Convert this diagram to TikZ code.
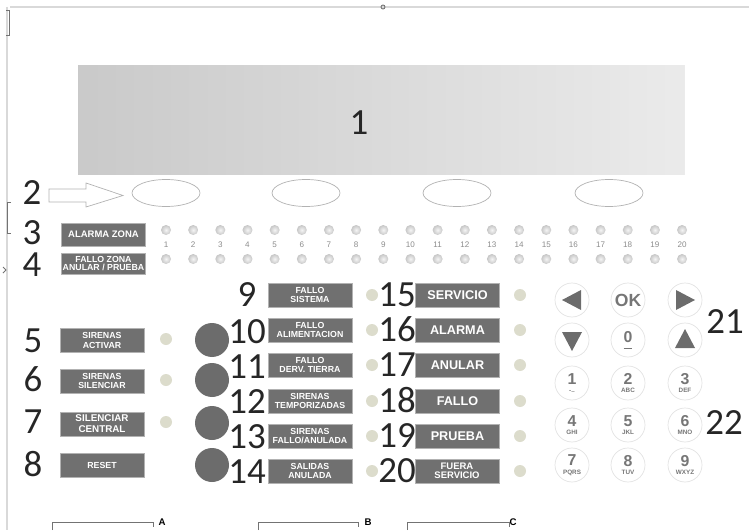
\documentclass[tikz,border=0pt]{standalone}
\usepackage{fontspec}
\setmainfont{Liberation Sans}
\newfontfamily\numfont{Carlito}
\usetikzlibrary{shapes.geometric}
\definecolor{btngray}{RGB}{112,112,112}
\definecolor{knobgray}{RGB}{108,108,108}
\definecolor{ledoff}{RGB}{220,220,204}
\definecolor{keyline}{RGB}{226,226,226}
\definecolor{keytext}{RGB}{118,118,118}
\tikzset{
  pnum/.style={font=\numfont\fontsize{21}{21}\selectfont,text=black!85,inner sep=0pt,
    text height=13.2pt,text depth=0pt},
  btn/.style={fill=btngray,draw=black!30,line width=0.3pt,text=white,align=center,
    font=\bfseries\fontsize{5}{5.6}\selectfont,minimum width=1.68cm,minimum height=0.48cm,inner sep=0pt},
  btnbig/.style={btn,font=\bfseries\fontsize{7.2}{8}\selectfont},
  zled/.style={circle,inner sep=0pt,minimum size=0.2cm,shading=radial,inner color=black!4,outer color=black!22},
  sled/.style={circle,inner sep=0pt,minimum size=0.24cm,fill=ledoff},
  knob/.style={circle,inner sep=0pt,minimum size=0.68cm,fill=knobgray},
  keybtn/.style={circle,inner sep=0pt,minimum size=0.68cm,draw=keyline,line width=0.4pt,
    align=center,text=keytext,font=\bfseries\fontsize{9}{8}\selectfont},
  softkey/.style={ellipse,draw=black!30,line width=0.4pt,minimum width=1.36cm,minimum height=0.54cm},
  marker/.style={draw=black!55,line width=0.5pt}
}
\newcommand{\keysub}[1]{\\[-3pt]{\fontsize{3.6}{4}\selectfont #1}}
\begin{document}
\begin{tikzpicture}[x=0.02cm,y=-0.02cm]
  \useasboundingbox (0,0) rectangle (749,530);
  % frame
  \draw[black!15,line width=0.8pt] (10,7) -- (749,7);
  \draw[black!15,line width=0.6pt] (7,7) -- (7,530);
  \draw[marker] (6,10) -- (9,10) -- (9,35) -- (6,35);
  \draw[marker] (11,202) -- (7,202) -- (7,233) -- (11,233);
  \draw[marker] (3,267) -- (6,270) -- (3,273);
  \draw[marker] (383,7) circle (2);
  % display
  \node[minimum width=12.14cm,minimum height=2.2cm,inner sep=0pt,
    left color=black!21,right color=black!8] (lcd) at (381.5,120) {};
  \node[pnum] (n1) at (359,123) {1};
  % soft keys
  \node[pnum] (n2) at (32,193) {2};
  \draw[black!30,line width=0.4pt] (49,189) -- (86,189) -- (86,183) -- (123,195.5)
    -- (86,207) -- (86,202) -- (49,202) -- cycle;
  \foreach \sx [count=\k] in {166,306,457,609}
    \node[softkey] (soft\k) at (\sx,193) {};
  % zones
  \node[pnum] (n3) at (32,233) {3};
  \node[pnum] (n4) at (32,265) {4};
  \node[btn,font=\bfseries\fontsize{5.4}{6}\selectfont,minimum height=0.46cm] (bzona) at (103.5,234.5) {ALARMA ZONA};
  \node[btn,minimum height=0.42cm,font=\bfseries\fontsize{5}{4.8}\selectfont] (bfzona) at (103.5,263.5) {FALLO ZONA\\ANULAR / PRUEBA};
  \foreach \i in {1,...,20}{
    \pgfmathsetmacro\zx{166+27.16*(\i-1)}
    \node[zled] (za\i) at (\zx,230) {};
    \node[inner sep=0pt,text=black!45,font=\fontsize{4.6}{5}\selectfont] (zn\i) at (\zx,245) {\i};
    \node[zled] (zb\i) at (\zx,259) {};
  }
  % left column
  \node[pnum] (n5) at (33,341) {5};
  \node[pnum] (n6) at (33,380) {6};
  \node[pnum] (n7) at (33,422) {7};
  \node[pnum] (n8) at (33,465) {8};
  \node[btn] (bsact) at (102,340.5) {SIRENAS\\ACTIVAR};
  \node[btn] (bssil) at (102,381) {SIRENAS\\SILENCIAR};
  \node[btn,font=\bfseries\fontsize{5.6}{6.2}\selectfont] (bscen) at (102,424) {SILENCIAR\\CENTRAL};
  \node[btn] (breset) at (102,465) {RESET};
  \foreach \ly [count=\k] in {339,380,422}
    \node[sled] (lled\k) at (166,\ly) {};
  \foreach \ky [count=\k] in {340,380,423,465}
    \node[knob] (knob\k) at (212,\ky) {};
  % middle column
  \foreach \nn/\ny in {9/295,10/332,11/367,12/402,13/437,14/472}
    \node[pnum] (n\nn) at (247,\ny) {\nn};
  \node[btn] (bfsis) at (310,295) {FALLO\\SISTEMA};
  \node[btn] (bfali) at (310,330) {FALLO\\ALIMENTACION};
  \node[btn] (bfder) at (310,365) {FALLO\\DERV. TIERRA};
  \node[btn] (bstem) at (310,401) {SIRENAS\\TEMPORIZADAS};
  \node[btn] (bsfal) at (310,436) {SIRENAS\\FALLO/ANULADA};
  \node[btn] (bsal) at (310,471) {SALIDAS\\ANULADA};
  \foreach \my [count=\k] in {295,330,365,401,436,471}
    \node[sled] (mled\k) at (372,\my) {};
  % right column
  \foreach \nn/\ny in {15/295,16/330,17/365,18/401,19/436,20/471}
    \node[pnum] (n\nn) at (397,\ny) {\nn};
  \node[btnbig] (bserv) at (457.5,295) {SERVICIO};
  \node[btnbig] (balarm) at (457.5,330) {ALARMA};
  \node[btnbig] (banul) at (457.5,365) {ANULAR};
  \node[btnbig] (bfallo) at (457.5,401) {FALLO};
  \node[btnbig] (bprueba) at (457.5,436) {PRUEBA};
  \node[btn,font=\bfseries\fontsize{5.4}{5.4}\selectfont] (bfuera) at (457,471) {FUERA\\SERVICIO};
  \foreach \ry [count=\k] in {295,330,365,401,436,471}
    \node[sled] (rled\k) at (520,\ry) {};
  % keypad
  \node[keybtn] (kleft) at (572,300) {};
  \node[keybtn,font=\bfseries\fontsize{10}{10}\selectfont] (kok) at (628,300) {OK};
  \node[keybtn] (kright) at (685,300) {};
  \node[keybtn] (kdown) at (572,340) {};
  \node[keybtn] (k0) at (628,340) {0\\[-4pt]\rule{5pt}{0.4pt}};
  \node[keybtn] (kup) at (685,340) {};
  \fill[knobgray] (kleft) ++(-10,0) -- ++(19,-10) -- ++(0,20) -- cycle;
  \fill[knobgray] (kright) ++(10,0) -- ++(-19,-10) -- ++(0,20) -- cycle;
  \fill[knobgray] (kdown) ++(0,11) -- ++(-10,-19) -- ++(20,0) -- cycle;
  \fill[knobgray] (kup) ++(0,-11) -- ++(-10,19) -- ++(20,0) -- cycle;
  \foreach \kd/\kl/\kx/\kyy in {1/-../572/383,2/ABC/628/383,3/DEF/685/383,
    4/GHI/572/425,5/JKL/628/425,6/MNO/685/425,7/PQRS/572/465,8/TUV/628/465,9/WXYZ/685/465}
    \node[keybtn] (k\kd) at (\kx,\kyy) {\kd\keysub{\kl}};
  \node[pnum] (n21) at (725,322) {21};
  \node[pnum] (n22) at (724,423) {22};
  % bottom markers
  \draw[marker] (52,530) -- (52,522) -- (153,522) -- (153,527);
  \node[inner sep=0pt,font=\bfseries\fontsize{5.5}{6}\selectfont] (la) at (162,522) {A};
  \draw[marker] (258,530) -- (258,522) -- (358,522) -- (358,527);
  \node[inner sep=0pt,font=\bfseries\fontsize{5.5}{6}\selectfont] (lb) at (368,522) {B};
  \draw[marker] (407,530) -- (407,522) -- (509,522) -- (509,527);
  \node[inner sep=0pt,font=\bfseries\fontsize{5.5}{6}\selectfont] (lc) at (513,522) {C};
\end{tikzpicture}
\end{document}
